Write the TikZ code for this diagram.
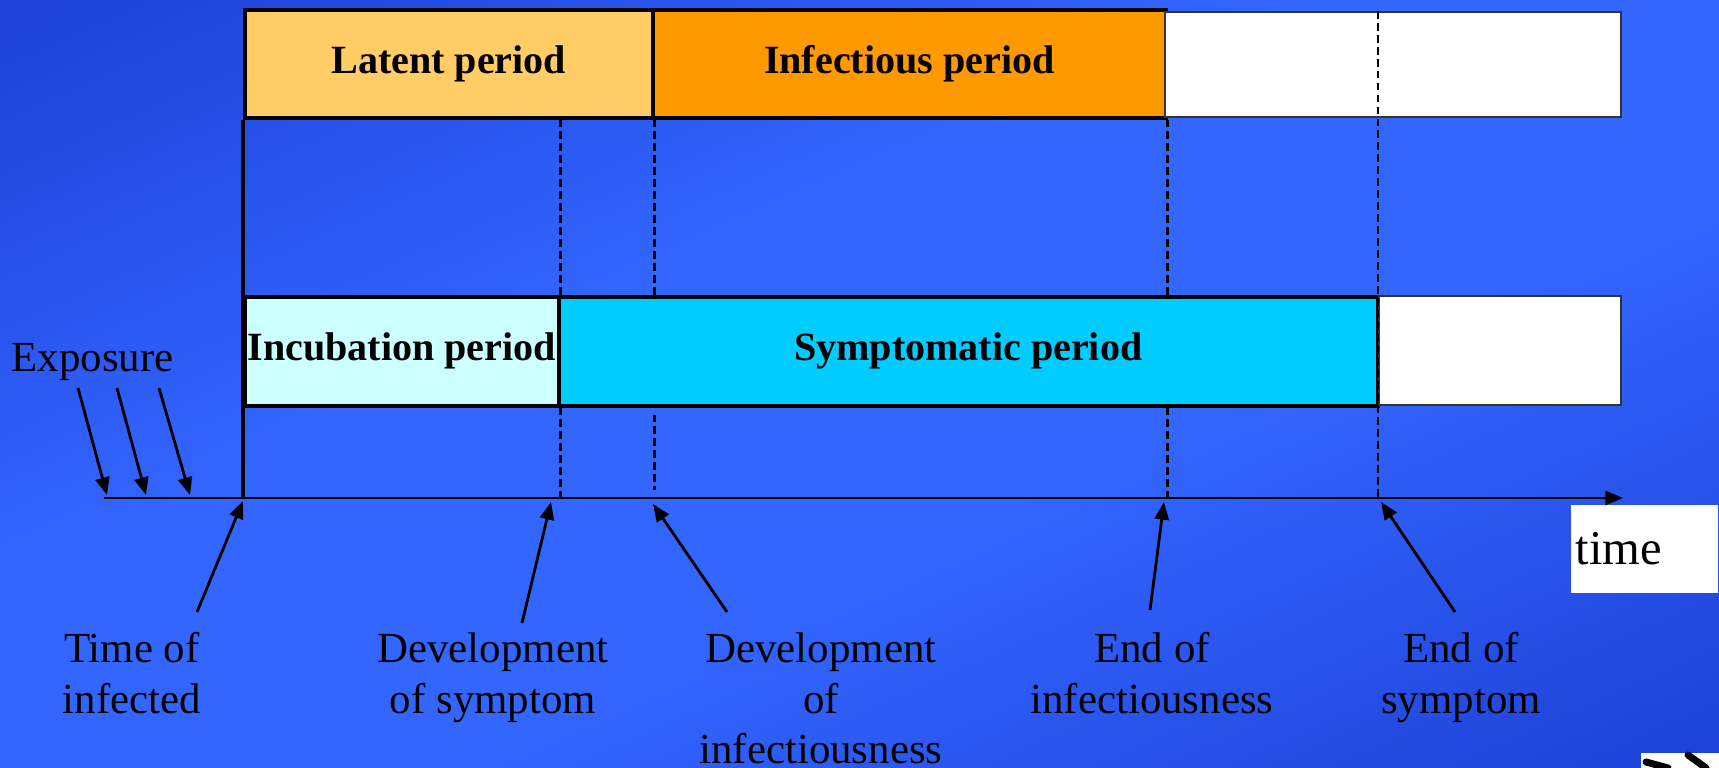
\documentclass[tikz,border=0pt]{standalone}
\usepackage{fontspec}
\setmainfont{Liberation Serif}
\definecolor{bgdark}{RGB}{30,66,216}
\definecolor{bgbright}{RGB}{51,102,255}
\definecolor{latentcol}{RGB}{255,204,102}
\definecolor{infectcol}{RGB}{255,153,0}
\definecolor{incubcol}{RGB}{204,255,255}
\definecolor{symptcol}{RGB}{0,204,255}
\usetikzlibrary{arrows.meta, positioning, calc}
\pgfdeclareverticalshading{bgshade}{100bp}{color(0bp)=(bgdark); color(18bp)=(bgdark); color(42bp)=(bgbright); color(58bp)=(bgbright); color(82bp)=(bgdark); color(100bp)=(bgdark)}
\tikzset{period/.style={draw,line width=1pt,inner sep=0pt,anchor=north west,font=\bfseries\fontsize{11.4}{13.5}\selectfont}}
\tikzset{blank/.style={period,fill=white,draw=black!80,line width=0.6pt}}
\tikzset{marker/.style={draw,line width=0.6pt,dash pattern=on 2.2pt off 1.2pt}}
\tikzset{event/.style={align=center,anchor=north,inner sep=0pt,font=\fontsize{12.2}{14.4}\selectfont}}
\tikzset{pointer/.style={draw,line width=0.8pt,-{Triangle[length=5pt,width=4pt]}}}

\begin{document}
\begin{tikzpicture}[x=0.1mm,y=-0.1mm]

% Define background
\shade[shading=bgshade,shading angle=24] (0,0) rectangle (1719,768);
\useasboundingbox (0,0) rectangle (1719,768);

% Define time axis
\coordinate (t0) at (104,498);
\coordinate (t1) at (1623,498);

% Define periods
\node[period,fill=latentcol,minimum width=40.8mm,minimum height=10.8mm] at (243,8) (latent) {Latent period};
\node[period,fill=infectcol,minimum width=51.3mm,minimum height=10.8mm] at (651,8) (infect) {Infectious period};
\node[blank,minimum width=45.6mm,minimum height=10.5mm] at (1164,11) (blank1) {};
\node[period,fill=incubcol,minimum width=31.4mm,minimum height=10.9mm] at (243,295) (incub) {Incubation period};
\node[period,fill=symptcol,minimum width=81.9mm,minimum height=10.9mm] at (557,295) (sympt) {Symptomatic period};
\node[blank,minimum width=24.2mm,minimum height=10.9mm] at (1378,295) (blank2) {};

% Define time box
\node[fill=white,anchor=north west,inner xsep=0.5mm,inner ysep=0pt,text width=13.7mm,align=left,minimum height=8.8mm,font=\fontsize{13.8}{16}\selectfont] at (1570,504) (timebox) {time};

% Define marker lines
\path[draw,line width=1pt] (latent.south west) -- (latent.south west |- t0);
\path[marker] (incub.north east |- latent.south) -- (incub.north east);
\path[marker] (incub.south east) -- (incub.south east |- t0);
\path[marker] (latent.south east) -- (latent.south east |- sympt.north);
\path[marker] ($(latent.south east |- sympt.south)+(0,7)$) -- ($(latent.south east |- t0)+(0,-8)$);
\path[marker] (infect.south east) -- (infect.south east |- sympt.north);
\path[marker] (infect.south east |- sympt.south) -- (infect.south east |- t0);
\path[marker] (blank2.west |- blank1.north) -- (blank2.west |- t0);

\path[pointer] (t0) -- (t1);

% Define exposure
\node[anchor=base west,inner sep=0pt,font=\fontsize{12.2}{14.4}\selectfont] at (11,372) (expo) {Exposure};
\coordinate (e1) at (78,388);
\coordinate (e2) at (117,388);
\coordinate (e3) at (159,388);
\coordinate (x1) at (107,495);
\coordinate (x2) at (146,495);
\coordinate (x3) at (190,495);
\path[pointer] (e1) -- (x1);
\path[pointer] (e2) -- (x2);
\path[pointer] (e3) -- (x3);

% Define events
\node[event] at (132,632) (infected) {Time of\\infected};
\node[event] at (493,632) (devsym) {Development\\of symptom};
\node[event] at (821,632) (devinf) {Development\\of\\infectiousness};
\node[event] at (1152,632) (endinf) {End of\\infectiousness};
\node[event] at (1461,632) (endsym) {End of\\symptom};

\coordinate (a1) at (197,612);
\coordinate (a2) at (522,623);
\coordinate (a3) at (727,612);
\coordinate (a4) at (1150,610);
\coordinate (a5) at (1455,612);
\coordinate (b1) at (243,501);
\coordinate (b2) at (551,502);
\coordinate (b3) at (653,504);
\coordinate (b4) at (1164,502);
\coordinate (b5) at (1381,502);
\path[pointer] (a1) -- (b1);
\path[pointer] (a2) -- (b2);
\path[pointer] (a3) -- (b3);
\path[pointer] (a4) -- (b4);
\path[pointer] (a5) -- (b5);

% Add the corner logo
\path[fill=white] (1641,753) rectangle (1719,768);
\draw[line width=2pt,line cap=round] (1646,762) -- (1668,768);
\draw[line width=2pt,line cap=round] (1688,755) -- (1706,768);
\end{tikzpicture}
\end{document}
